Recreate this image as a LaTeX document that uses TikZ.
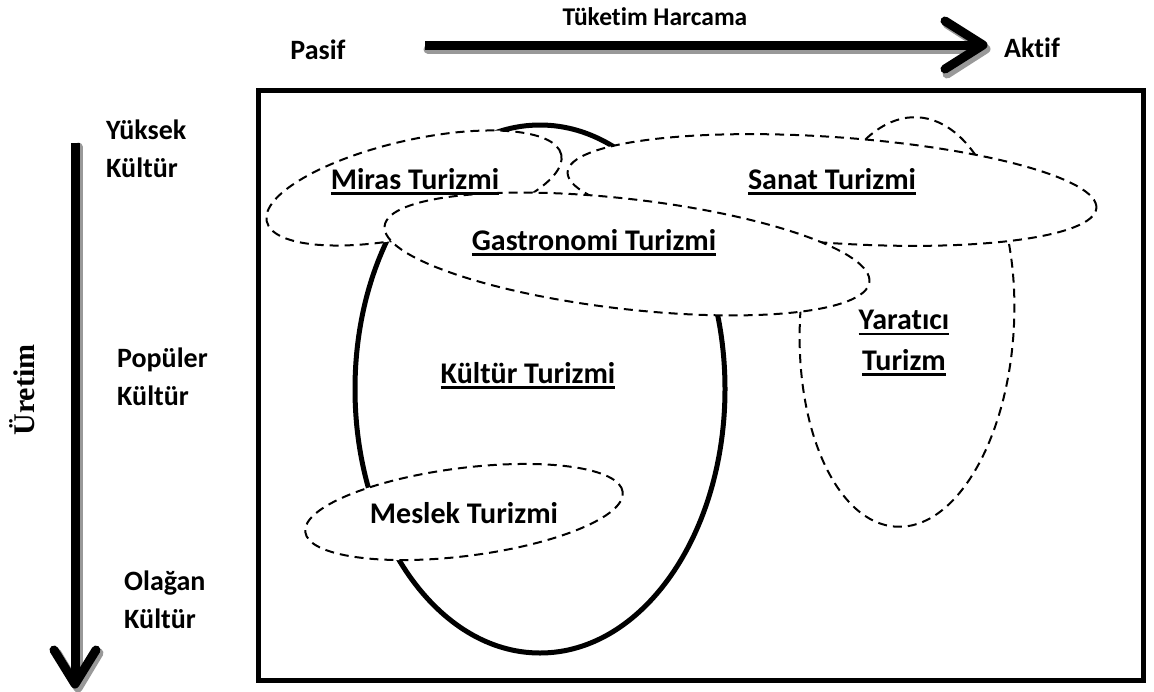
\documentclass[tikz,border=0pt]{standalone}
\usepackage{fontspec}
\setmainfont[RawFeature=-liga]{Carlito}
\newfontfamily\serifbold{Liberation Serif}
\usetikzlibrary{calc}
\newcommand\myul[1]{\setbox0\hbox{#1}\rlap{\rule[-5.5pt]{\wd0}{2.8pt}}\box0}
\begin{document}
\begin{tikzpicture}[x=1pt,y=-1pt,
  lbl/.style={font=\fontsize{30}{34}\selectfont\bfseries, inner sep=0pt},
  side/.style={font=\fontsize{28}{32}\selectfont\bfseries, inner sep=0pt},
  dsh/.style={draw=black, line width=2pt, dash pattern=on 9pt off 6pt},
  bigline/.style={line width=9pt, line cap=round, line join=round},
  shadowline/.style={line width=9pt, line cap=round, line join=round, draw=black!40},
]
\useasboundingbox (0,0) rectangle (1154,691);
\fill[white] (0,0) rectangle (1154,691);

% frame
\draw[line width=5pt] (258,90) rectangle (1143,680);

% top arrow
\coordinate (hA) at (425,45);
\coordinate (hB) at (983,45);
\draw[shadowline] ($(hA)+(3,4)$) -- ($(hB)+(-6,4)$);
\draw[shadowline] ($(hB)+(-36,-21)$) -- ($(hB)+(3,4)$) -- ($(hB)+(-36,29)$);
\draw[bigline, line cap=butt] (hA) -- ($(hB)+(-4,0)$);
\draw[bigline] ($(hB)+(-38,-24)$) -- (hB) -- ($(hB)+(-38,24)$);

% left arrow
\coordinate (vA) at (75,143);
\coordinate (vB) at (75,684);
\draw[shadowline] ($(vA)+(3,4)$) -- ($(vB)+(3,-4)$);
\draw[shadowline] ($(vB)+(-18,-31)$) -- ($(vB)+(3,4)$) -- ($(vB)+(24,-31)$);
\draw[bigline, line cap=butt] (vA) -- ($(vB)+(0,-4)$);
\draw[bigline] ($(vB)+(-21,-34)$) -- (vB) -- ($(vB)+(21,-34)$);

% Kultur Turizmi (solid)
\draw[line width=5pt] (540,389) ellipse [x radius=185pt, y radius=264pt];

% Yaratici (behind)
\filldraw[fill=white, dsh, rotate around={-3:(907,322)}] (907,322) ellipse [x radius=107pt, y radius=205pt];

% Miras and Sanat
\fill[white, rotate around={12.8:(414,188)}] (414,188) ellipse [x radius=151pt, y radius=48pt];
\fill[white, rotate around={-3.9:(832,190)}] (832,190) ellipse [x radius=265pt, y radius=53pt];
\draw[dsh, rotate around={12.8:(414,188)}] (414,188) ellipse [x radius=151pt, y radius=48pt];
\draw[dsh, rotate around={-3.9:(832,190)}] (832,190) ellipse [x radius=265pt, y radius=53pt];

% Gastronomi
\filldraw[fill=white, dsh, rotate around={-6.6:(627,254)}] (627,254) ellipse [x radius=244pt, y radius=55pt];

% Meslek
\filldraw[fill=white, dsh, rotate around={7.2:(464,512)}] (464,512) ellipse [x radius=160pt, y radius=44pt];

% texts
\node[font=\fontsize{25.5}{29}\selectfont\bfseries, inner sep=0pt] (tuk) at (655,17) {Tüketim Harcama};
\node[side] (pasif) at (318,50) {Pasif};
\node[side] (aktif) at (1032,48) {Aktif};

\node[side, align=left, anchor=west] (yuk) at (106,149) {Yüksek\\[6pt]Kültür};
\node[side, align=left, anchor=west] (pop) at (117,377) {Popüler\\[6pt]Kültür};
\node[side, align=left, anchor=west] (ola) at (124,600) {Olağan\\[6pt]Kültür};

\node[inner sep=0pt, rotate=90, font=\fontsize{30}{33}\serifbold\bfseries] (ure) at (22,390) {Üretim};

\node[lbl] (miras) at (415,182) {\myul{Miras Turizmi}};
\node[lbl] (sanat) at (832,182) {\myul{Sanat Turizmi}};
\node[lbl] (gastro) at (594,243) {\myul{Gastronomi Turizmi}};
\node[lbl] (kultur) at (528,376) {\myul{Kültür Turizmi}};
\node[lbl] (yarat) at (904,323) {\myul{Yaratıcı}};
\node[lbl] (turizm) at (904,363) {\myul{Turizm}};
\node[lbl] (meslek) at (464,513) {Meslek Turizmi};
\end{tikzpicture}
\end{document}
